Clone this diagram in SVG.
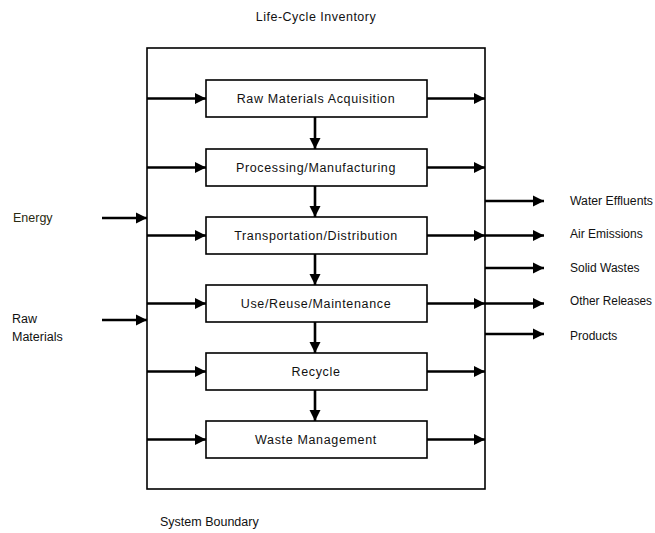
<svg xmlns="http://www.w3.org/2000/svg" width="655" height="533" viewBox="0 0 655 533">
<style>
.t{font-family:"Liberation Sans",Arial,sans-serif;font-size:12.5px;fill:#111}
.c{text-anchor:middle}
.b{letter-spacing:0.65px}
.o{font-size:12px}
.box{fill:#fff;stroke:#000;stroke-width:1.6}
.ln{stroke:#000;stroke-width:2.6;fill:none}
</style>
<defs>
<marker id="ah" viewBox="0 0 10 10" refX="10" refY="5" markerWidth="4.4" markerHeight="4.4" markerUnits="strokeWidth" orient="auto">
<path d="M0,0 L10,5 L0,10 z" fill="#000"/>
</marker>
</defs>
<rect width="655" height="533" fill="#fff"/>
<text class="t c" x="316" y="21" style="letter-spacing:0.5px">Life-Cycle Inventory</text>
<g id="boundary"><rect x="147" y="48" width="338" height="441" fill="none" stroke="#000" stroke-width="1.6"/></g>
<text class="t" x="160" y="526">System Boundary</text>

<g id="connectors">
<path class="ln" marker-end="url(#ah)" d="M147 98.5H206"/>
<path class="ln" marker-end="url(#ah)" d="M147 167.5H206"/>
<path class="ln" marker-end="url(#ah)" d="M147 235.5H206"/>
<path class="ln" marker-end="url(#ah)" d="M147 303.5H206"/>
<path class="ln" marker-end="url(#ah)" d="M147 371.5H206"/>
<path class="ln" marker-end="url(#ah)" d="M147 439.5H206"/>
<path class="ln" marker-end="url(#ah)" d="M427 98.5H485"/>
<path class="ln" marker-end="url(#ah)" d="M427 167.5H485"/>
<path class="ln" marker-end="url(#ah)" d="M427 235.5H485"/>
<path class="ln" marker-end="url(#ah)" d="M427 303.5H485"/>
<path class="ln" marker-end="url(#ah)" d="M427 371.5H485"/>
<path class="ln" marker-end="url(#ah)" d="M427 439.5H485"/>
<path class="ln" marker-end="url(#ah)" d="M315 117V149"/>
<path class="ln" marker-end="url(#ah)" d="M315 186V217"/>
<path class="ln" marker-end="url(#ah)" d="M315 254V285"/>
<path class="ln" marker-end="url(#ah)" d="M315 322V353"/>
<path class="ln" marker-end="url(#ah)" d="M315 390V421"/>
<path class="ln" marker-end="url(#ah)" d="M102 218H147"/>
<path class="ln" marker-end="url(#ah)" d="M102 320H147"/>
<path class="ln" marker-end="url(#ah)" d="M485 201H544"/>
<path class="ln" marker-end="url(#ah)" d="M485 235.5H544"/>
<path class="ln" marker-end="url(#ah)" d="M485 268H544"/>
<path class="ln" marker-end="url(#ah)" d="M485 303.5H544"/>
<path class="ln" marker-end="url(#ah)" d="M485 334H544"/>
</g>

<g id="n1"><rect class="box" x="206" y="80" width="221" height="37"/><text class="t c b" x="316" y="103">Raw Materials Acquisition</text></g>
<g id="n2"><rect class="box" x="206" y="149" width="221" height="37"/><text class="t c b" x="316" y="172">Processing/Manufacturing</text></g>
<g id="n3"><rect class="box" x="206" y="217" width="221" height="37"/><text class="t c b" x="316" y="240">Transportation/Distribution</text></g>
<g id="n4"><rect class="box" x="206" y="285" width="221" height="37"/><text class="t c b" x="316" y="308">Use/Reuse/Maintenance</text></g>
<g id="n5"><rect class="box" x="206" y="353" width="221" height="37"/><text class="t c b" x="316" y="376">Recycle</text></g>
<g id="n6"><rect class="box" x="206" y="421" width="221" height="37"/><text class="t c b" x="316" y="444">Waste Management</text></g>

<g id="energy"><text class="t" x="13" y="222" style="fill:#2a2a10">Energy</text></g>
<g id="rawmat"><text class="t" x="12" y="323">Raw</text><text class="t" x="12" y="341">Materials</text></g>
<g id="outputs">
<text class="t o" x="570" y="205" textLength="83" lengthAdjust="spacingAndGlyphs">Water Effluents</text>
<text class="t o" x="570" y="238">Air Emissions</text>
<text class="t o" x="570" y="272">Solid Wastes</text>
<text class="t o" x="570" y="305" textLength="82" lengthAdjust="spacingAndGlyphs">Other Releases</text>
<text class="t o" x="570" y="340">Products</text>
</g>
</svg>
